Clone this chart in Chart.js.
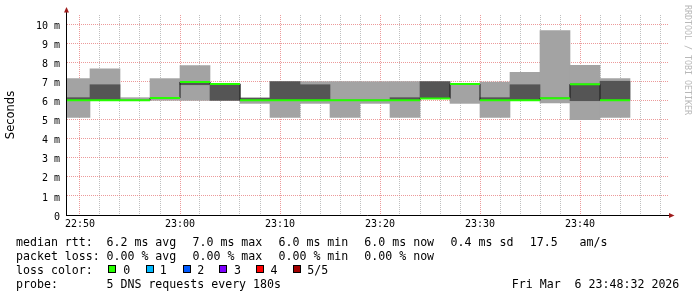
<!DOCTYPE html>
<html lang="en">
<head>
<meta charset="UTF-8">
<title>Median RTT - DNS probe</title>
<script src="https://cdn.jsdelivr.net/npm/chart.js"></script>
<style>
  * { margin: 0; padding: 0; box-sizing: border-box; }
  body { width: 697px; height: 297px; background: #fff; position: relative; overflow: hidden;
         font-family: 'DejaVu Sans Mono', monospace; }
  #chart { position: absolute; left: 0; top: 0; }
  .t { position: absolute; font-size: 11.6px; line-height: 14px; color: #000; white-space: pre; }
  .box { position: absolute; top: 265px; width: 8px; height: 8px; border: 1px solid #000; }
  .credit { position: absolute; left: 682.5px; top: 5px; writing-mode: vertical-rl; font-size: 8.3px;
            line-height: 9px; color: #b8b8b8; white-space: pre; }
</style>
</head>
<body>

<canvas id="chart" width="697" height="297"></canvas>

<div class="credit">RRDTOOL / TOBI OETIKER</div>

<!-- legend block -->
<div class="t" style="top:234.5px;left:16px">median rtt:</div>
<div class="t" style="top:234.5px;left:106.5px">6.2 ms avg</div>
<div class="t" style="top:234.5px;left:192.5px">7.0 ms max</div>
<div class="t" style="top:234.5px;left:278.5px">6.0 ms min</div>
<div class="t" style="top:234.5px;left:364.3px">6.0 ms now</div>
<div class="t" style="top:234.5px;left:450.6px">0.4 ms sd</div>
<div class="t" style="top:234.5px;left:529.7px">17.5</div>
<div class="t" style="top:234.5px;left:579.5px">am/s</div>

<div class="t" style="top:248.5px;left:16px">packet loss:</div>
<div class="t" style="top:248.5px;left:106.5px">0.00 % avg</div>
<div class="t" style="top:248.5px;left:192.5px">0.00 % max</div>
<div class="t" style="top:248.5px;left:278.5px">0.00 % min</div>
<div class="t" style="top:248.5px;left:364.3px">0.00 % now</div>

<div class="t" style="top:262.5px;left:16px">loss color:</div>
<div class="box" style="left:108px;background:#26ff00"></div>
<div class="t" style="top:262.5px;left:123.3px">0</div>
<div class="box" style="left:145.5px;background:#00b8ff"></div>
<div class="t" style="top:262.5px;left:159.8px">1</div>
<div class="box" style="left:182.5px;background:#0059ff"></div>
<div class="t" style="top:262.5px;left:197.3px">2</div>
<div class="box" style="left:219px;background:#7e00ff"></div>
<div class="t" style="top:262.5px;left:234px">3</div>
<div class="box" style="left:256px;background:#ff0000"></div>
<div class="t" style="top:262.5px;left:270.6px">4</div>
<div class="box" style="left:293px;background:#a10000"></div>
<div class="t" style="top:262.5px;left:307.3px">5/5</div>

<div class="t" style="top:276.5px;left:16px">probe:</div>
<div class="t" style="top:276.5px;left:106.5px">5 DNS requests every 180s</div>
<div class="t" style="top:276.5px;left:511.8px">Fri Mar  6 23:48:32 2026</div>

<script>
    // step start, in minutes after 22:00 (each step is 180 s)
    const stepStart = [48, 51, 54, 57, 60, 63, 66, 69, 72, 75, 78, 81, 84, 87, 90, 93, 96, 99, 102];
    const STEP = 3;

    // smoke: full min..max of the pings (ms)
    const smokeMin = [5.12, 6.02, 6.00, 6.02, 6.02, 6.02, 5.86, 5.12, 5.86, 5.12, 5.86, 5.12, 6.12, 5.86, 5.12, 6.02, 5.88, 5.00, 5.12];
    const smokeMax = [7.16, 7.68, 6.16, 7.16, 7.84, 6.88, 6.14, 7.00, 7.00, 7.00, 7.00, 7.00, 7.00, 6.90, 6.98, 7.49, 9.68, 7.86, 7.16];
    // darker inner smoke
    const coreMin = [6.02, 6.02, null, null, 6.84, 6.02, 6.02, 6.02, 6.02, null, null, 6.02, 6.12, null, 6.02, 6.02, null, 6.00, 6.02];
    const coreMax = [6.16, 6.84, null, null, 6.98, 6.88, 6.14, 7.00, 6.84, null, null, 6.16, 7.00, null, 6.16, 6.84, null, 6.86, 7.02];
    // median rtt (ms)
    const median = [6.02, 6.02, 6.02, 6.14, 6.98, 6.88, 6.02, 6.02, 6.02, 6.02, 6.02, 6.02, 6.12, 6.88, 6.02, 6.02, 6.13, 6.86, 6.02];

    // tick labels
    const xTickMin = [50, 60, 70, 80, 90, 100];
    const xTickText = ['22:50', '23:00', '23:10', '23:20', '23:30', '23:40'];
    const yTickVal = [0, 1, 2, 3, 4, 5, 6, 7, 8, 9, 10];
    const yTickText = ['0', '1 m', '2 m', '3 m', '4 m', '5 m', '6 m', '7 m', '8 m', '9 m', '10 m'];

    const X_MIN = 48.7, X_MAX = 108.8;
    const majorGrid = 'rgba(230,120,120,0.75)';
    const minorGrid = 'rgba(170,170,170,0.75)';
    const mono = 'DejaVu Sans Mono';

    const last = stepStart.length - 1;

    const smokeData = stepStart.map((s, i) => ({ x: s + STEP / 2, y: [smokeMin[i], smokeMax[i]] }));
    const coreData = stepStart.map((s, i) => ({ x: s + STEP / 2, y: coreMin[i] == null ? null : [coreMin[i], coreMax[i]] }));
    const stepData = stepStart.map((s, i) => ({ x: s, y: median[i] }));
    stepData.push({ x: stepStart[last] + STEP, y: median[last] });
    const medianData = [];
    stepStart.forEach((s, i) => {
        medianData.push({ x: s, y: median[i] }, { x: s + STEP, y: median[i] }, { x: s + STEP, y: null });
    });

    // axis lines with the little arrow heads
    const axisArrows = {
        id: 'axisArrows',
        afterDatasetsDraw(chart) {
            const { ctx } = chart;
            const { left, right, top, bottom } = chart.chartArea;
            ctx.save();
            ctx.strokeStyle = '#000';
            ctx.lineWidth = 1;
            ctx.beginPath();
            ctx.moveTo(left - 0.5, bottom + 1);
            ctx.lineTo(left - 0.5, top - 3);
            ctx.moveTo(left - 1, bottom + 0.5);
            ctx.lineTo(right + 1, bottom + 0.5);
            ctx.stroke();
            ctx.fillStyle = '#9e1b1b';
            ctx.beginPath();
            ctx.moveTo(left - 0.5, top - 8);
            ctx.lineTo(left - 3, top - 2.5);
            ctx.lineTo(left + 2, top - 2.5);
            ctx.closePath();
            ctx.fill();
            ctx.beginPath();
            ctx.moveTo(right + 6.5, bottom + 0.5);
            ctx.lineTo(right + 1, bottom - 2);
            ctx.lineTo(right + 1, bottom + 3);
            ctx.closePath();
            ctx.fill();
            ctx.restore();
        }
    };

    new Chart(document.getElementById('chart'), {
        type: 'bar',
        data: {
            datasets: [
                {
                    type: 'line', label: 'median', data: medianData, xAxisID: 'x', yAxisID: 'y',
                    borderColor: '#26ff00', borderWidth: 2, pointRadius: 0, spanGaps: false, order: 0
                },
                {
                    type: 'line', label: 'median steps', data: stepData, xAxisID: 'x', yAxisID: 'y',
                    stepped: 'before', borderColor: '#1a1a1a', borderWidth: 1, pointRadius: 0, order: 1
                },
                {
                    label: 'core', data: coreData, xAxisID: 'x', yAxisID: 'y', backgroundColor: '#555555',
                    grouped: false, barPercentage: 1, categoryPercentage: 1, borderWidth: 0, order: 2
                },
                {
                    label: 'smoke', data: smokeData, xAxisID: 'x', yAxisID: 'y', backgroundColor: '#a3a3a3',
                    grouped: false, barPercentage: 1, categoryPercentage: 1, borderWidth: 0, order: 3
                }
            ]
        },
        options: {
            responsive: false,
            devicePixelRatio: 1,
            animation: false,
            layout: { padding: { left: 0, top: 15, right: 29, bottom: 67 } },
            plugins: { legend: { display: false }, tooltip: { enabled: false } },
            scales: {
                x: {
                    type: 'linear', display: false, min: X_MIN, max: X_MAX, offset: false,
                    grid: { offset: false }, ticks: { stepSize: STEP }
                },
                xt: {
                    type: 'linear', position: 'bottom', min: X_MIN, max: X_MAX, offset: false,
                    grid: {
                        offset: false, drawTicks: false,
                        color: ctx => (ctx.tick && ctx.tick.value % 10 === 0) ? majorGrid : minorGrid,
                        borderDash: [1, 1]
                    },
                    border: { display: false, dash: [1, 1] },
                    ticks: {
                        stepSize: 2, includeBounds: false, autoSkip: false, maxRotation: 0, padding: 3,
                        color: '#000', font: { family: mono, size: 10 },
                        callback: v => { const i = xTickMin.indexOf(v); return i < 0 ? '' : xTickText[i]; }
                    },
                    afterFit: s => { s.height = 15; }
                },
                y: {
                    min: 0, max: 10.5,
                    grid: {
                        drawTicks: false,
                        color: ctx => (ctx.tick && Number.isInteger(ctx.tick.value)) ? majorGrid : minorGrid,
                        borderDash: [1, 1]
                    },
                    border: { display: false, dash: [1, 1] },
                    ticks: {
                        stepSize: 0.5, padding: 7, labelOffset: 2, color: '#000', font: { family: mono, size: 10 },
                        callback: v => { const i = yTickVal.indexOf(v); return i < 0 ? '' : yTickText[i]; }
                    },
                    title: {
                        display: true, text: 'Seconds', color: '#000',
                        font: { family: 'DejaVu Sans', size: 11.5 }, padding: { top: 4, bottom: 0 }
                    },
                    afterFit: s => { s.width = 67; }
                }
            }
        },
        plugins: [axisArrows]
    });
</script>
</body>
</html>
